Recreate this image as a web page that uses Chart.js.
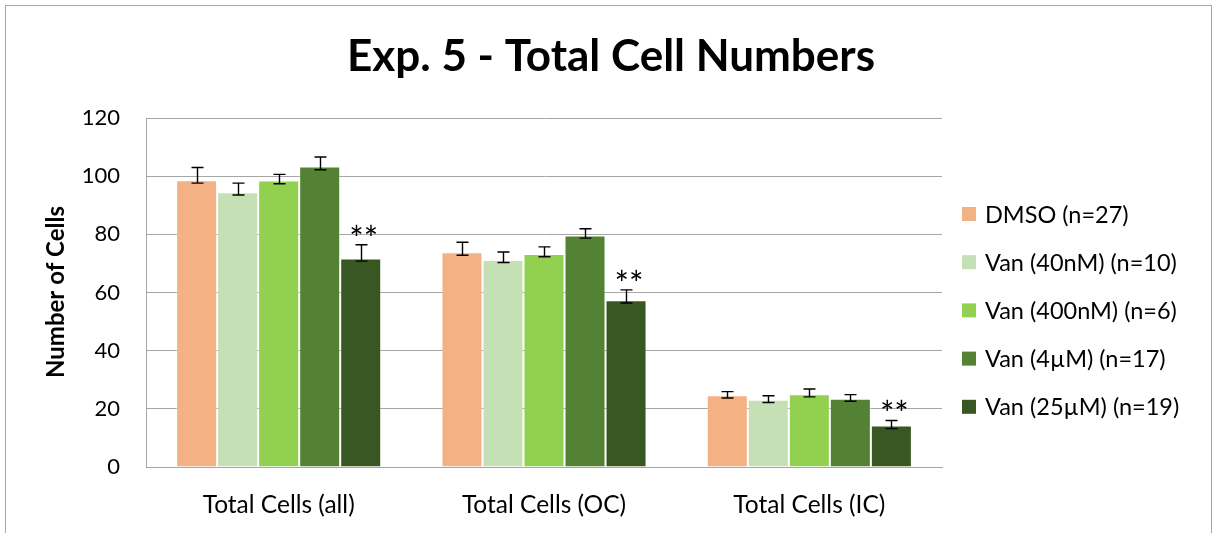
<!DOCTYPE html>
<html>
<head>
<meta charset="utf-8">
<script src="https://cdn.jsdelivr.net/npm/chart.js@4/dist/chart.umd.min.js"></script>
<style>
  html, body { margin: 0; padding: 0; background: #ffffff; }
  #wrap { position: relative; width: 1217px; height: 533px; }
</style>
</head>
<body>
<div id="wrap"><canvas id="c" width="1217" height="533"></canvas></div>
<script>
// Categories and series
const categories = ['Total Cells (all)', 'Total Cells (OC)', 'Total Cells (IC)'];
const seriesNames = ['DMSO (n=27)', 'Van (40nM) (n=10)', 'Van (400nM) (n=6)', 'Van (4\u00b5M) (n=17)', 'Van (25\u00b5M) (n=19)'];
const seriesColors = ['#F4B183', '#C5E0B4', '#92D050', '#548235', '#385723'];

// Mean cell counts per series
const dmso   = [98.6, 73.8, 24.7];
const van40  = [94.5, 71.2, 23.1];
const van400 = [98.5, 73.2, 25.0];
const van4   = [103.3, 79.6, 23.5];
const van25  = [71.7, 57.3, 14.3];

// Error bar extents (above / below the mean)
const dmsoUp   = [4.4, 3.5, 1.2];  const dmsoDown   = [1.0, 1.0, 1.0];
const van40Up  = [3.1, 2.7, 1.4];  const van40Down  = [1.0, 0.9, 0.9];
const van400Up = [2.1, 2.5, 1.8];  const van400Down = [1.1, 0.9, 0.9];
const van4Up   = [3.3, 2.3, 1.4];  const van4Down   = [1.1, 0.9, 0.9];
const van25Up  = [4.7, 3.6, 1.7];  const van25Down  = [0.9, 0.9, 1.1];

// Significance marks (Van 25µM vs DMSO)
const van25Marks = ['**', '**', '**'];

// Axis ticks
const yTicks = [0, 20, 40, 60, 80, 100, 120];

const values = [dmso, van40, van400, van4, van25];
const ups = [dmsoUp, van40Up, van400Up, van4Up, van25Up];
const downs = [dmsoDown, van40Down, van400Down, van4Down, van25Down];
const marks = [null, null, null, null, van25Marks];

const FONT = 'Lato, "Open Sans", "DejaVu Sans", sans-serif';

const datasets = seriesNames.map((name, i) => ({
  label: name,
  data: values[i],
  errUp: ups[i],
  errDown: downs[i],
  marks: marks[i],
  backgroundColor: seriesColors[i],
  borderColor: 'rgba(255,255,255,0.35)',
  borderWidth: 1,
  categoryPercentage: 0.773,
  barPercentage: 1.0
}));

// Error bars and significance stars
const errorBars = {
  id: 'errorBars',
  afterDatasetsDraw(chart) {
    const ctx = chart.ctx;
    const y = chart.scales.y;
    ctx.save();
    ctx.strokeStyle = '#000000';
    ctx.lineWidth = 1.4;
    chart.data.datasets.forEach((ds, i) => {
      const meta = chart.getDatasetMeta(i);
      meta.data.forEach((bar, j) => {
        const v = ds.data[j];
        const yt = y.getPixelForValue(v + ds.errUp[j]);
        const yb = y.getPixelForValue(v - ds.errDown[j]);
        const x = Math.round(bar.x) + 0.5;
        ctx.beginPath();
        ctx.moveTo(x, yt); ctx.lineTo(x, yb);
        ctx.moveTo(x - 6, yt); ctx.lineTo(x + 6, yt);
        ctx.moveTo(x - 6, yb); ctx.lineTo(x + 6, yb);
        ctx.stroke();
        if (ds.marks && ds.marks[j]) {
          ctx.fillStyle = '#000000';
          ctx.font = '34px ' + FONT;
          ctx.textAlign = 'center';
          ctx.textBaseline = 'alphabetic';
          const m = ctx.measureText(ds.marks[j]);
          const mid = (m.actualBoundingBoxAscent - m.actualBoundingBoxDescent) / 2;
          ctx.fillText(ds.marks[j], bar.x + 3, yt - 15 + mid);
        }
      });
    });
    ctx.restore();
  }
};

// Title, axis title, legend and outer frame
const decor = {
  id: 'decor',
  beforeDraw(chart) {
    const ctx = chart.ctx;
    ctx.save();
    ctx.fillStyle = '#ffffff';
    ctx.fillRect(0, 0, chart.width, chart.height);
    ctx.restore();
  },
  afterDraw(chart) {
    const ctx = chart.ctx;
    ctx.save();
    // outer frame
    ctx.strokeStyle = '#a6a6a6';
    ctx.lineWidth = 1;
    ctx.strokeRect(5.5, 5.5, 1206, 560);
    // title
    ctx.fillStyle = '#000000';
    ctx.font = 'bold 44px ' + FONT;
    ctx.textAlign = 'center';
    ctx.textBaseline = 'middle';
    ctx.fillText('Exp. 5 - Total Cell Numbers', 611, 57);
    // y axis title
    ctx.save();
    ctx.translate(56, 292);
    ctx.rotate(-Math.PI / 2);
    ctx.font = 'bold 24px ' + FONT;
    ctx.fillText('Number of Cells', 0, 0);
    ctx.restore();
    // legend
    ctx.font = '23.5px ' + FONT;
    ctx.textAlign = 'left';
    chart.data.datasets.forEach((ds, i) => {
      const cy = 214 + i * 48.2;
      ctx.fillStyle = ds.backgroundColor;
      ctx.fillRect(962, cy - 7, 14, 14);
      ctx.fillStyle = '#000000';
      ctx.fillText(ds.label, 985, cy + 1);
    });
    ctx.restore();
  }
};

new Chart(document.getElementById('c').getContext('2d'), {
  type: 'bar',
  data: { labels: categories, datasets },
  options: {
    responsive: false,
    animation: false,
    devicePixelRatio: 1,
    layout: { padding: { left: 0, right: 275, top: 118, bottom: 0 } },
    plugins: {
      legend: { display: false },
      title: { display: false },
      tooltip: { enabled: false }
    },
    scales: {
      x: {
        grid: { display: false, drawTicks: false },
        border: { color: '#a6a6a6', width: 1 },
        ticks: { color: '#000000', font: { family: FONT, size: 24.5 }, padding: 23, maxRotation: 0, autoSkip: false },
        afterFit(s) { s.height = 66; }
      },
      y: {
        min: 0,
        max: 120,
        afterBuildTicks(s) { s.ticks = yTicks.map(v => ({ value: v })); },
        grid: { color: '#a6a6a6', drawTicks: false },
        border: { color: '#a6a6a6', width: 1 },
        ticks: { color: '#000000', font: { family: FONT, size: 22 }, padding: 26 },
        afterFit(s) { s.width = 146; }
      }
    }
  },
  plugins: [decor, errorBars]
});
</script>
</body>
</html>
